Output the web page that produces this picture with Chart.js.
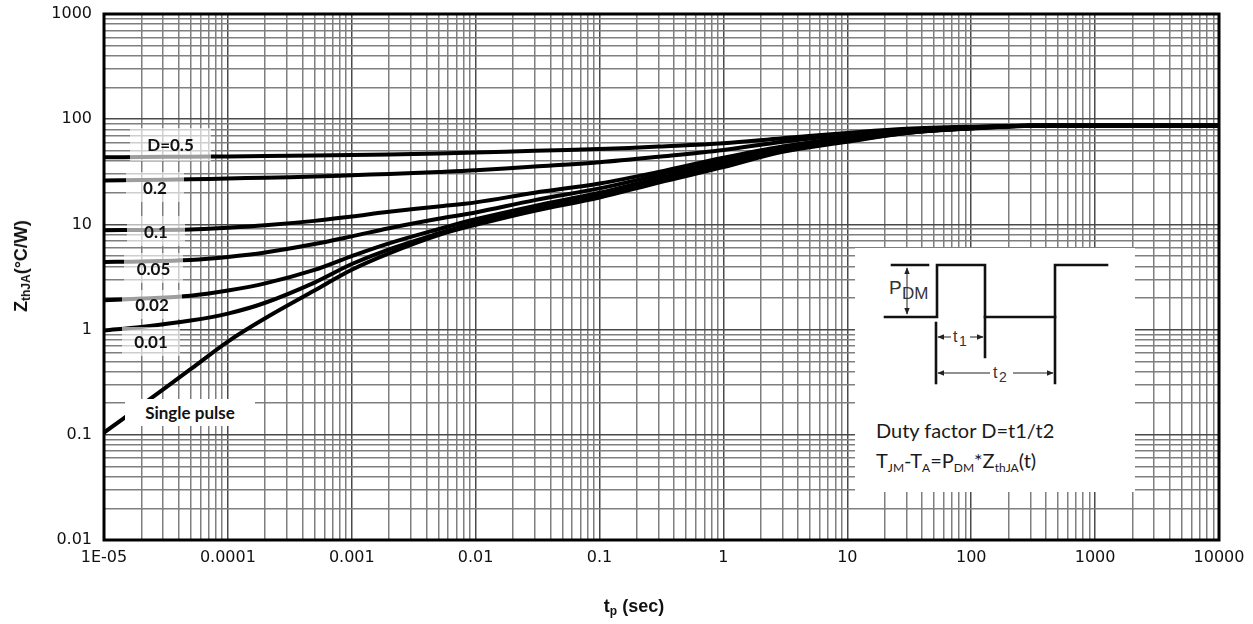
<!DOCTYPE html>
<html>
<head>
<meta charset="utf-8">
<script src="https://cdn.jsdelivr.net/npm/chart.js@4.4.1/dist/chart.umd.min.js"></script>
<style>
html,body{margin:0;padding:0;background:#fff;}
#wrap{position:relative;width:1253px;height:624px;overflow:hidden;background:#fff;}
#c{position:absolute;left:0;top:0;}
.lbl{position:absolute;background:rgba(255,255,255,0.62);font:bold 17px Lato, "Open Sans", sans-serif;color:#111;display:flex;align-items:center;justify-content:center;}
.solid{background:#fff;}
.ytitle{position:absolute;left:22px;top:266px;transform:translate(-50%,-50%) rotate(-90deg);font:bold 18px "Liberation Sans", Arial, sans-serif;color:#111;white-space:nowrap;}
.xtitle{position:absolute;left:634px;top:607px;transform:translate(-50%,-50%);font:bold 18px "Liberation Sans", Arial, sans-serif;color:#111;white-space:nowrap;}
.ytitle sub,.xtitle sub{font-size:12px;vertical-align:-3px;}
#inset{position:absolute;left:855px;top:248px;width:280px;height:244px;background:#fff;}
#inset svg{position:absolute;left:0;top:0;}
.itxt{position:absolute;left:21px;font:20px Lato, "Open Sans", sans-serif;color:#1a1a1a;white-space:nowrap;line-height:1;}
.itxt sub{font-size:12px;vertical-align:-4px;}
</style>
</head>
<body>
<div id="wrap">
<canvas id="c" width="1253" height="624"></canvas>
<div class="ytitle">Z<sub>thJA</sub>(°C/W)</div>
<div class="xtitle">t<sub>p</sub> (sec)</div>

<div class="lbl" style="left:130px;top:128px;width:81px;height:33px;">D=0.5</div>
<div class="lbl" style="left:126px;top:172px;width:58px;height:30px;">0.2</div>
<div class="lbl" style="left:127px;top:216px;width:58px;height:30px;">0.1</div>
<div class="lbl" style="left:124px;top:253px;width:59px;height:30px;">0.05</div>
<div class="lbl" style="left:122px;top:290px;width:60px;height:29px;">0.02</div>
<div class="lbl" style="left:122px;top:327px;width:58px;height:29px;">0.01</div>
<div class="lbl solid" style="left:125px;top:399px;width:130px;height:27px;">Single pulse</div>

<div id="inset">
<svg width="280" height="244" viewBox="0 0 280 244" xmlns="http://www.w3.org/2000/svg">
  <defs>
    <marker id="ah" viewBox="0 0 10 10" refX="9" refY="5" markerWidth="7" markerHeight="7" orient="auto-start-reverse">
      <path d="M0,1 L10,5 L0,9 z" fill="#222"/>
    </marker>
  </defs>
  <g stroke="#111" stroke-width="2.6" fill="none" stroke-linecap="square">
    <line x1="37" y1="17" x2="73" y2="17"/>
    <polyline points="30,69 82,69 82,17 130,17 130,109"/>
    <line x1="130" y1="69" x2="200" y2="69"/>
    <polyline points="200,135 200,17 252,17"/>
    <line x1="81" y1="75" x2="81" y2="135"/>
  </g>
  <g stroke="#222" stroke-width="1" fill="none">
    <line x1="52" y1="20" x2="52" y2="66" marker-start="url(#ah)" marker-end="url(#ah)"/>
    <line x1="83" y1="89" x2="96" y2="89" marker-start="url(#ah)"/>
    <line x1="115" y1="89" x2="128" y2="89" marker-end="url(#ah)"/>
    <line x1="83" y1="125" x2="135" y2="125" marker-start="url(#ah)"/>
    <line x1="158" y1="125" x2="198" y2="125" marker-end="url(#ah)"/>
  </g>
  <g fill="#333" font-family="Liberation Sans, Arial, sans-serif">
    <text x="34" y="46" font-size="19">P</text>
    <text x="47" y="51" font-size="17">DM</text>
    <text x="98" y="94" font-size="16">t</text>
    <text x="104" y="98" font-size="14">1</text>
    <text x="138" y="130" font-size="16">t</text>
    <text x="144" y="134" font-size="14">2</text>
  </g>
</svg>
<div class="itxt" style="top:172px;">Duty factor D=t1/t2</div>
<div class="itxt" style="top:202px;">T<sub>JM</sub>-T<sub>A</sub>=P<sub>DM</sub>*Z<sub>thJA</sub>(t)</div>
</div>
</div>

<script>
// ---- data ----
const times = [1e-5, 2e-5, 5e-5, 1e-4, 2e-4, 5e-4, 1e-3, 2e-3, 5e-3, 1e-2, 3e-2, 1e-1, 3e-1, 1, 3, 10, 30, 100, 300, 1000, 10000];
const d05    = [43.5, 43.7, 44.0, 44.3, 44.7, 45.2, 45.6, 46.2, 47.2, 48.3, 50, 52, 55, 59, 66, 74, 81, 85, 87, 87, 87];
const d02    = [26.2, 26.4, 26.8, 27.3, 27.8, 28.5, 29.3, 30.2, 31.5, 32.7, 35.5, 39, 44, 51, 61, 71, 79, 84, 86.5, 87, 87];
const d01    = [8.8, 8.85, 8.95, 9.3, 9.8, 10.8, 11.9, 13.2, 14.8, 16.2, 20, 24.5, 31.5, 43, 55, 67, 77, 83, 86.5, 87, 87];
const d005   = [4.4, 4.45, 4.6, 4.9, 5.4, 6.5, 7.7, 9.2, 11.3, 13, 17, 22, 29.5, 41, 53, 65, 76, 83, 86.5, 87, 87];
const d002   = [1.9, 1.97, 2.1, 2.35, 2.75, 3.7, 5.0, 6.6, 9.0, 11.2, 15, 20, 27.5, 38, 51.5, 63.5, 75, 82, 86.5, 87, 87];
const d001   = [0.98, 1.06, 1.22, 1.42, 1.8, 2.8, 4.2, 5.8, 8.2, 10.4, 14.2, 19, 26, 36.5, 50, 62, 74, 82, 86.5, 87, 87];
const single = [0.105, 0.19, 0.42, 0.77, 1.28, 2.35, 3.7, 5.3, 7.9, 9.9, 13.5, 18, 25, 35, 49, 61, 74, 81.5, 86.5, 87, 87];

const seriesNames = ['D=0.5', 'D=0.2', 'D=0.1', 'D=0.05', 'D=0.02', 'D=0.01', 'Single pulse'];
const seriesValues = [d05, d02, d01, d005, d002, d001, single];

const xMin = 1e-5, xMax = 1e4;
const yMin = 0.01, yMax = 1000;
const xTickLabels = {'-5':'1E-05','-4':'0.0001','-3':'0.001','-2':'0.01','-1':'0.1','0':'1','1':'10','2':'100','3':'1000','4':'10000'};
const yTickLabels = {'-2':'0.01','-1':'0.1','0':'1','1':'10','2':'100','3':'1000'};

// ---- helpers ----
function logTicks(minExp, maxExp) {
  const out = [];
  for (let e = minExp; e < maxExp; e++) {
    for (let m = 1; m <= 9; m++) out.push({value: Number((m * Math.pow(10, e)).toPrecision(3))});
  }
  out.push({value: Math.pow(10, maxExp)});
  return out;
}
function decadeExp(v) {
  const l = Math.log10(v);
  const r = Math.round(l);
  return Math.abs(l - r) < 1e-6 ? r : null;
}

const datasets = seriesNames.map((name, i) => ({
  label: name,
  data: times.map((t, k) => ({x: t, y: seriesValues[i][k]})),
  borderColor: '#000',
  borderWidth: 4,
  pointRadius: 0,
  fill: false,
  tension: 0.35
}));

const frame = {
  id: 'frame',
  afterDraw(chart) {
    const {ctx, chartArea: a} = chart;
    ctx.save();
    ctx.strokeStyle = '#000';
    ctx.lineWidth = 3;
    ctx.strokeRect(a.left, a.top, a.right - a.left, a.bottom - a.top);
    ctx.restore();
  }
};

const gridColor = (ctx) => (ctx.tick && decadeExp(ctx.tick.value) !== null) ? '#4a4a4a' : '#7f7f7f';

new Chart(document.getElementById('c'), {
  type: 'line',
  data: {datasets},
  options: {
    responsive: false,
    animation: false,
    devicePixelRatio: 1,
    layout: {padding: {top: 14, right: 34, left: 0, bottom: 0}},
    plugins: {legend: {display: false}, tooltip: {enabled: false}},
    scales: {
      x: {
        type: 'logarithmic',
        min: xMin, max: xMax,
        afterBuildTicks: (s) => { s.ticks = logTicks(-5, 4); },
        afterFit: (s) => { s.height = 84; s.paddingLeft = 0; s.paddingRight = 0; },
        grid: {color: gridColor, lineWidth: 1.5, drawTicks: false},
        border: {display: false},
        ticks: {
          autoSkip: false, maxRotation: 0, minRotation: 0, padding: 8,
          color: '#111',
          font: {family: 'DejaVu Sans', size: 16},
          callback: (v) => { const e = decadeExp(v); return e === null ? '' : xTickLabels[String(e)]; }
        }
      },
      y: {
        type: 'logarithmic',
        min: yMin, max: yMax,
        afterBuildTicks: (s) => { s.ticks = logTicks(-2, 3); },
        afterFit: (s) => { s.width = 104; s.paddingTop = 0; s.paddingBottom = 0; },
        grid: {color: gridColor, lineWidth: 1.5, drawTicks: false},
        border: {display: false},
        ticks: {
          autoSkip: false, padding: 12,
          color: '#111',
          font: {family: 'DejaVu Sans', size: 16},
          callback: (v) => { const e = decadeExp(v); return e === null ? '' : yTickLabels[String(e)]; }
        }
      }
    }
  },
  plugins: [frame]
});
</script>
</body>
</html>
